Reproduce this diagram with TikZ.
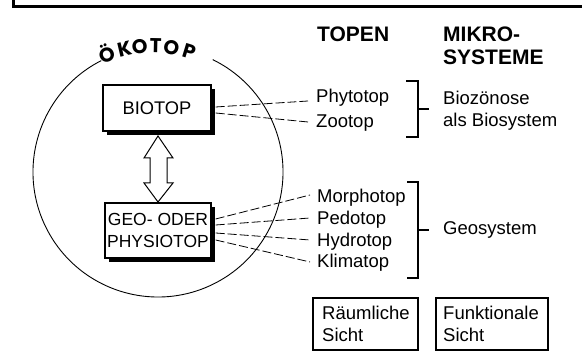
\documentclass[tikz,border=0pt]{standalone}
\usepackage{fontspec}
\setmainfont{Liberation Sans}
\newfontfamily\okofont{Poppins}
\usetikzlibrary{shadows}
\begin{document}
\begin{tikzpicture}[x=1pt,y=1pt,
  txt/.style={anchor=base west, inner sep=0pt, font=\fontsize{18.5}{22}\selectfont},
  head/.style={anchor=base west, inner sep=0pt, align=left, font=\fontsize{21}{23.5}\selectfont\bfseries},
  oko/.style={anchor=base, inner sep=0pt, font=\okofont\fontsize{20}{20}\selectfont\bfseries},
  dashline/.style={line width=0.8pt, dash pattern=on 9pt off 3pt},
  brace/.style={line width=1.1pt},
  topbox/.style={draw, line width=1.3pt, fill=white, inner sep=0pt, align=center,
    drop shadow={shadow xshift=4pt, shadow yshift=-4pt, fill=black, opacity=1}},
  viewbox/.style={draw, line width=2.6pt, inner sep=0pt, minimum height=52pt}
]
\useasboundingbox (0,0) rectangle (582,363);
% frame
\draw[line width=3.5pt] (13.5,363) -- (13.5,356.5) -- (582,356.5);
% circle with gap for title
\draw[line width=0.9pt] (158,191) ++(117:125) arc[start angle=117, end angle=424, radius=125];
% title along arc
\path (153,193) ++(111.5:117) node[oko, rotate=21.5] (o1) {Ö};
\path (153,193) ++(103.3:117) node[oko, rotate=13.3] (o2) {K};
\path (153,193) ++(96.2:117) node[oko, rotate=6.2] (o3) {O};
\path (153,193) ++(88.7:117) node[oko, rotate=-1.3] (o4) {T};
\path (153,193) ++(81.5:117) node[oko, rotate=-8.5] (o5) {O};
\path (153,193) ++(73:117) node[oko, rotate=-17] (o6) {P};
% boxes
\node[topbox, minimum width=108pt, minimum height=46pt, font=\fontsize{18.3}{22}\selectfont] (bio) at (157,255) {BIOTOP};
\node[topbox, minimum width=106pt, minimum height=55pt, font=\fontsize{17.5}{21.5}\selectfont] (geo) at (158,132.5) {GEO- ODER\\PHYSIOTOP};
% double arrow
\draw[line width=1pt, fill=white] (158,227) -- (173,205) -- (167,205) -- (167,180) -- (173,180)
  -- (158,161) -- (144,180) -- (150,180) -- (150,205) -- (144,205) -- cycle;
% headers
\node[head] (topen) at (317,321) {TOPEN};
\node[head] (mikro) at (443,298) {MIKRO-\\SYSTEME};
% topen
\node[txt] (phy) at (316,260) {Phytotop};
\node[txt] (zoo) at (316,235) {Zootop};
\node[txt] (mor) at (317,160) {Morphotop};
\node[txt] (ped) at (317,138) {Pedotop};
\node[txt] (hyd) at (317,116) {Hydrotop};
\node[txt] (kli) at (317,95) {Klimatop};
% mikrosysteme
\node[txt, align=left] (bioz) at (443,236) {Biozönose\\als Biosystem};
\node[txt] (geos) at (443,128) {Geosystem};
% dashed connectors
\draw[dashline] ([xshift=4pt,yshift=1pt]bio.east) -- ([xshift=-8pt,yshift=2pt]phy.base west);
\draw[dashline] ([xshift=4pt,yshift=-5pt]bio.east) -- ([xshift=-8pt,yshift=6pt]zoo.base west);
\draw[dashline] ([xshift=4pt,yshift=11.5pt]geo.east) -- ([xshift=-7pt,yshift=8pt]mor.base west);
\draw[dashline] ([xshift=4pt,yshift=5.5pt]geo.east) -- ([xshift=-7pt,yshift=7pt]ped.base west);
\draw[dashline] ([xshift=4pt,yshift=-2.5pt]geo.east) -- ([xshift=-7pt,yshift=7pt]hyd.base west);
\draw[dashline] ([xshift=4pt,yshift=-9.5pt]geo.east) -- ([xshift=-7pt,yshift=6pt]kli.base west);
% brackets
\draw[brace] (406,282) -- (418,282) -- (418,226) -- (406,226);
\draw[brace] (418,254) -- (429,254);
\draw[brace] (407,181) -- (418,181) -- (418,85) -- (407,85);
\draw[brace] (418,133) -- (429,133);
% view boxes
\node[viewbox, minimum width=105pt] (raum) at (365.5,39) {};
\node[txt, align=left] (raumt) at (322,21) {Räumliche\\Sicht};
\node[viewbox, minimum width=112pt] (funk) at (492,39) {};
\node[txt, align=left] (funkt) at (443,21) {Funktionale\\Sicht};
\end{tikzpicture}
\end{document}
